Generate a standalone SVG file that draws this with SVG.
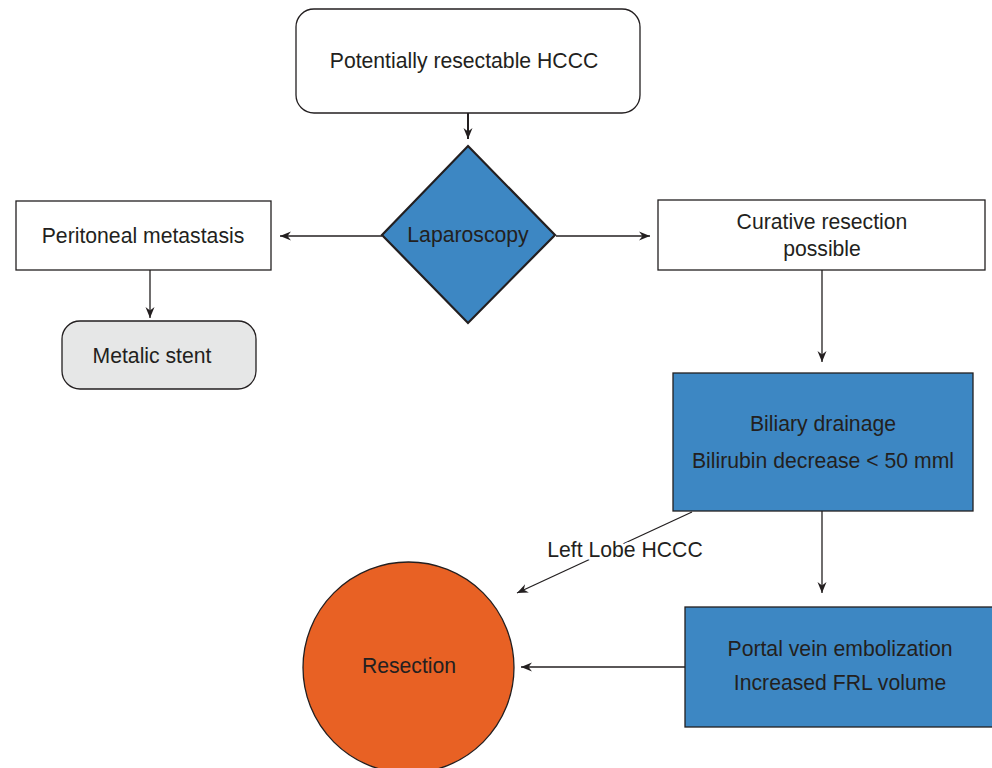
<svg xmlns="http://www.w3.org/2000/svg" width="992" height="768" viewBox="0 0 992 768">
<defs>
<marker id="arr" markerWidth="12" markerHeight="10" refX="11" refY="5" orient="auto" markerUnits="userSpaceOnUse">
<path d="M0,0.5 L11,5 L0,9.5 L3.5,5 Z" fill="#231f20"/>
</marker>
<style>
.t{font-family:"Liberation Sans",Arial,sans-serif;font-size:21.2px;fill:#231f20;text-anchor:middle;dominant-baseline:central}
.box{stroke:#231f20;stroke-width:1.3}
.ln{stroke:#231f20;stroke-width:1.3;fill:none;marker-end:url(#arr)}
.blue{fill:#3d87c3}
</style>
</defs>
<rect width="992" height="768" fill="#fff"/>
<g id="connectors">
<line class="ln" x1="468" y1="113" x2="468" y2="139" style="stroke-width:2"/>
<line class="ln" x1="382" y1="236" x2="280" y2="236"/>
<line class="ln" x1="556" y1="236" x2="650" y2="236"/>
<line class="ln" x1="150" y1="270" x2="150" y2="318"/>
<line class="ln" x1="822" y1="270" x2="822" y2="362"/>
<line class="ln" x1="822" y1="511" x2="822" y2="593"/>
<line class="ln" x1="685" y1="667" x2="521" y2="667"/>
<line class="ln" x1="692" y1="512" x2="517" y2="593"/>
<text class="t" x="625" y="549" stroke="#fff" stroke-width="6" paint-order="stroke" stroke-linejoin="round">Left Lobe HCCC</text>
</g>
<g id="start">
<rect class="box" x="296" y="9" width="344" height="104" rx="18" fill="#fff"/>
<text class="t" x="464" y="60">Potentially resectable HCCC</text>
</g>
<g id="laparoscopy">
<polygon class="box blue" points="468,146 555,235 468,323 382,235" style="stroke-width:2.2"/>
<text class="t" x="468" y="234">Laparoscopy</text>
</g>
<g id="peritoneal">
<rect class="box" x="16" y="201" width="255" height="69" fill="#fff"/>
<text class="t" x="143" y="235">Peritoneal metastasis</text>
</g>
<g id="stent">
<rect class="box" x="62" y="321" width="194" height="68" rx="18" fill="#e6e7e7"/>
<text class="t" x="152" y="355">Metalic stent</text>
</g>
<g id="curative">
<rect class="box" x="658" y="200" width="327" height="70" fill="#fff"/>
<text class="t" x="822" y="221">Curative resection</text>
<text class="t" x="822" y="248">possible</text>
</g>
<g id="biliary">
<rect class="box blue" x="673" y="373" width="300" height="138"/>
<text class="t" x="823" y="423">Biliary drainage</text>
<text class="t" x="823" y="460">Bilirubin decrease &lt; 50 mml</text>
</g>
<g id="portal">
<rect class="box blue" x="685" y="607" width="312" height="120"/>
<text class="t" x="840" y="648">Portal vein embolization</text>
<text class="t" x="840" y="682">Increased FRL volume</text>
</g>
<g id="resection">
<circle class="box" cx="408.5" cy="667.5" r="105.5" fill="#e86124"/>
<text class="t" x="409" y="665">Resection</text>
</g>
</svg>
